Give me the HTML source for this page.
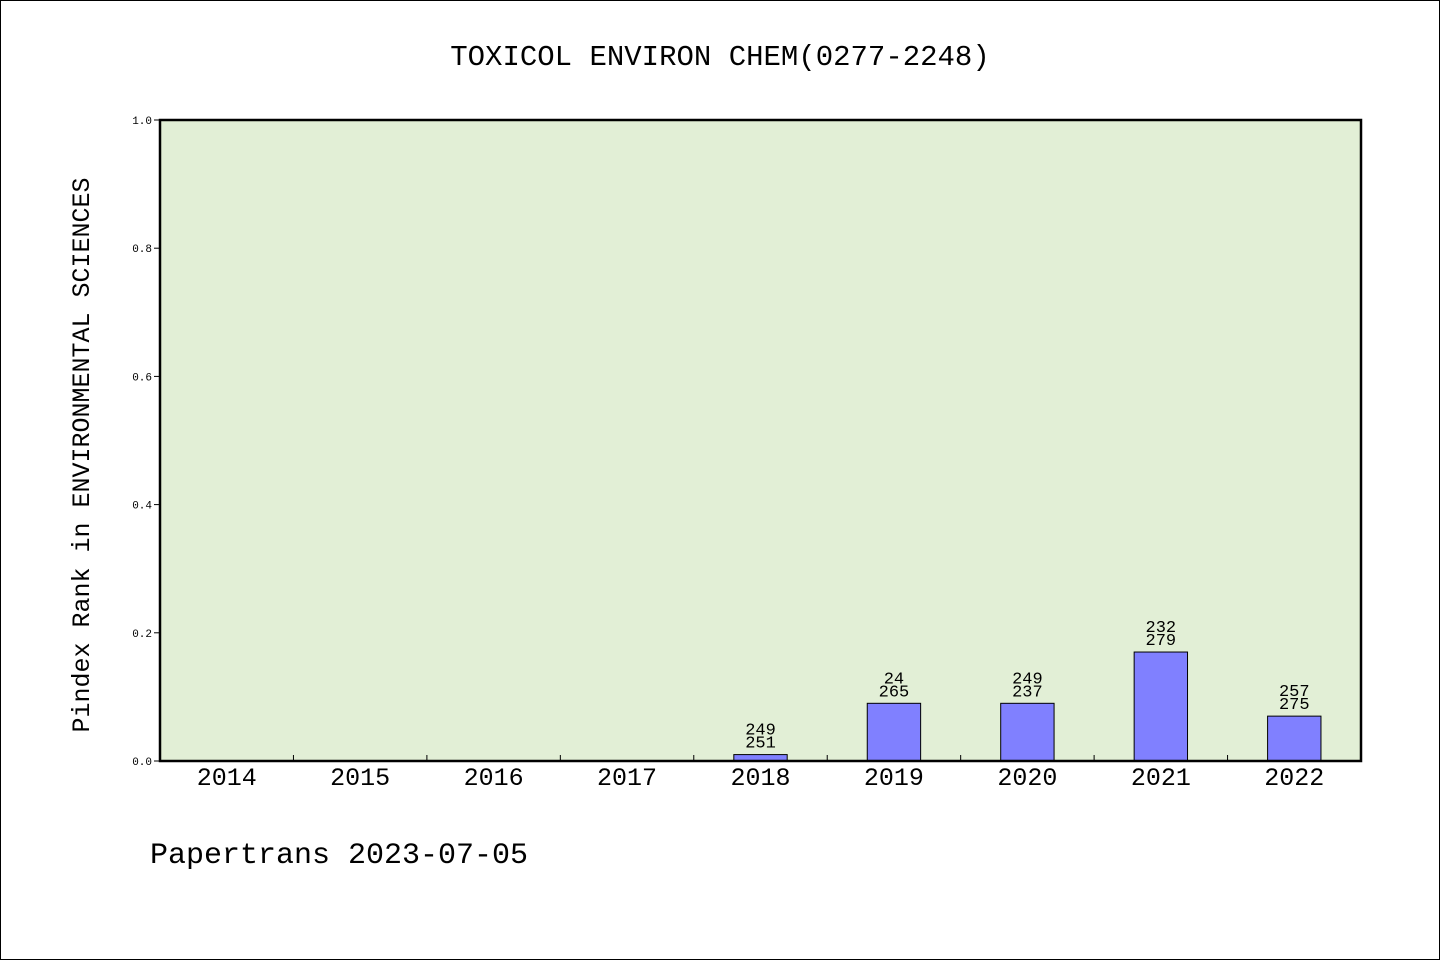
<!DOCTYPE html>
<html><head><meta charset="utf-8"><style>
html,body{margin:0;padding:0;background:#fff}
svg{display:block}
text{font-family:"Liberation Mono","WenQuanYi Zen Hei",monospace;fill:#000}
</style></head><body>
<svg width="1440" height="960">
<rect x="0.5" y="0.5" width="1439" height="959" fill="#fff" stroke="#000"/>
<text x="720" y="65" font-size="29" text-anchor="middle">TOXICOL ENVIRON CHEM(0277-2248)</text>
<rect x="160" y="120" width="1201" height="641" fill="#e2efd6"/>
<g id="yticks"></g>
<g id="bars"></g>
<rect x="160" y="120" width="1201" height="641" fill="none" stroke="#000" stroke-width="2.5"/>
<text transform="translate(89,455) rotate(-90)" font-size="25" text-anchor="middle">Pindex Rank in ENVIRONMENTAL SCIENCES</text>
<text x="150" y="863" font-size="30">Papertrans 2023-07-05</text>
</svg>
<script>
const categories=["2014","2015","2016","2017","2018","2019","2020","2021","2022"];
const values=[null,null,null,null,0.01,0.09,0.09,0.17,0.07];
const labelTop=["","","","","249","24","249","232","257"];
const labelBottom=["","","","","251","265","237","279","275"];
const yTicks=[0,0.2,0.4,0.6,0.8,1.0];
const NS="http://www.w3.org/2000/svg";
const X0=160,W=1201,Y0=761,H=641;
const slot=W/categories.length;
const y=v=>Y0-v*H;
const xc=i=>X0+slot*(i+0.5);
function mk(t,a,p){const e=document.createElementNS(NS,t);for(const k in a)e.setAttribute(k,a[k]);p.appendChild(e);return e;}
const yt=document.getElementById('yticks');
yTicks.forEach(v=>{
 const l=mk('line',{x1:X0-6,x2:X0,y1:y(v),y2:y(v),stroke:'#000'},yt);
 
 
 const t=mk('text',{x:152,y:y(v)+4,'font-size':11,'text-anchor':'end'},yt);
 t.textContent=v.toFixed(1);
 
 
});
const bg=document.getElementById('bars');
categories.forEach((c,i)=>{
 if(i>0){const tk=mk('line',{x1:X0+slot*i,x2:X0+slot*i,y1:Y0,y2:Y0-6,stroke:'#000'},bg);
 
 }
 const t=mk('text',{x:xc(i),y:785,'font-size':25,'text-anchor':'middle'},bg);
 t.textContent=c;
 
 
 const v=values[i];
 if(v!=null){
  const bw=slot*0.4;
  const r=mk('rect',{x:xc(i)-bw/2,y:y(v),width:bw,height:Y0-y(v),fill:'#8080ff',stroke:'#000','stroke-width':1},bg);
  
  
  const a=mk('text',{x:xc(i),y:y(v)-20,'font-size':17,'text-anchor':'middle'},bg);
  a.textContent=labelTop[i];
  
  
  const b=mk('text',{x:xc(i),y:y(v)-7,'font-size':17,'text-anchor':'middle'},bg);
  b.textContent=labelBottom[i];
  
  
 }
});
</script>
</body></html>
